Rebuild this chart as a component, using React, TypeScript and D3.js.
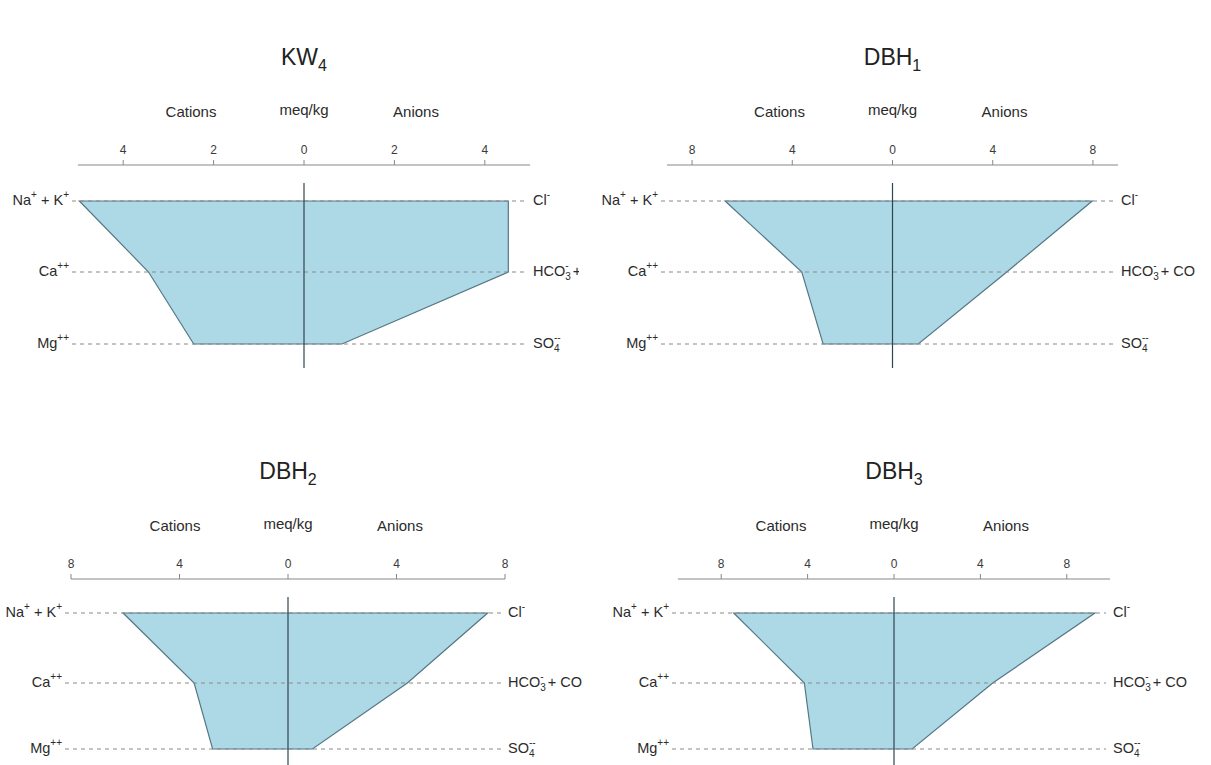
import React from "react";
import * as d3 from "d3";

// Ion balance (meq/kg) for four samples: cations plotted left, anions right.
const sampleNames = ["KW", "DBH", "DBH", "DBH"];
const sampleSubs = ["4", "1", "2", "3"];

const naK = [4.97, 6.68, 6.08, 7.42];
const ca = [3.44, 3.62, 3.46, 4.15];
const mg = [2.44, 2.77, 2.78, 3.75];
const cl = [4.52, 7.97, 7.36, 9.3];
const hco3 = [4.52, 4.56, 4.4, 4.57];
const so4 = [0.84, 1.03, 0.9, 0.84];

const axisMax = [5, 9, 8, 10];
const tickValues = [
  [-4, -2, 0, 2, 4],
  [-8, -4, 0, 4, 8],
  [-8, -4, 0, 4, 8],
  [-8, -4, 0, 4, 8],
];

// Panel frames on the page
const frames = [
  { x0: 78, x1: 530, top: 0, clipL: 0, clipR: 579, bottom: 368, rows: [201, 272, 344] },
  { x0: 667, x1: 1118, top: 0, clipL: 596, clipR: 1195, bottom: 368, rows: [201, 272, 344] },
  { x0: 71, x1: 505, top: 414, clipL: 0, clipR: 582, bottom: 765, rows: [199, 269, 335] },
  { x0: 678, x1: 1110, top: 414, clipL: 596, clipR: 1187, bottom: 765, rows: [199, 269, 335] },
];

const FONT = "'Liberation Sans', Arial, Helvetica, sans-serif";
const TXT = "#2b2b2b";
const LFS = 14.5;
const SFS = 10;

function LeftLabel({ kind, x, y }: { kind: number; x: number; y: number }) {
  const common = { x, y, textAnchor: "end" as const, fontSize: LFS, fill: TXT, fontFamily: FONT, dominantBaseline: "middle" as const };
  if (kind === 0)
    return (
      <text {...common}>
        Na<tspan fontSize={SFS} dy={-6}>+</tspan>
        <tspan dy={6}> + K</tspan>
        <tspan fontSize={SFS} dy={-6}>+</tspan>
      </text>
    );
  if (kind === 1)
    return (
      <text {...common}>
        Ca<tspan fontSize={SFS} dy={-6}>++</tspan>
      </text>
    );
  return (
    <text {...common}>
      Mg<tspan fontSize={SFS} dy={-6}>++</tspan>
    </text>
  );
}

function RightLabel({ kind, x, y }: { kind: number; x: number; y: number }) {
  const common = { x, y, textAnchor: "start" as const, fontSize: LFS, fill: TXT, fontFamily: FONT, dominantBaseline: "middle" as const };
  if (kind === 0)
    return (
      <text {...common}>
        Cl<tspan fontSize={SFS} dy={-6}>-</tspan>
      </text>
    );
  if (kind === 1)
    return (
      <text {...common}>
        HCO<tspan fontSize={SFS} dy={5}>3</tspan>
        <tspan fontSize={SFS} dx={-5.5} dy={-11}>-</tspan>
        <tspan dy={6}> + CO</tspan>
        <tspan fontSize={SFS} dy={5}>3</tspan>
        <tspan fontSize={SFS} dx={-5.5} dy={-11}>--</tspan>
      </text>
    );
  return (
    <text {...common}>
      SO<tspan fontSize={SFS} dy={5}>4</tspan>
      <tspan fontSize={SFS} dx={-5.5} dy={-11}>--</tspan>
    </text>
  );
}

function Panel({ i }: { i: number }) {
  const f = frames[i];
  const x = d3.scaleLinear().domain([-axisMax[i], axisMax[i]]).range([f.x0, f.x1]);
  const rowY = f.rows.map((r) => f.top + r);
  const axisY = f.top + 165;
  const cx = x(0);

  const pts: [number, number][] = [
    [-naK[i], rowY[0]],
    [cl[i], rowY[0]],
    [hco3[i], rowY[1]],
    [so4[i], rowY[2]],
    [-mg[i], rowY[2]],
    [-ca[i], rowY[1]],
  ];
  const line = d3
    .line<[number, number]>()
    .x((d) => x(d[0]))
    .y((d) => d[1]);
  const poly = line(pts) + "Z";

  const clipId = `clip-${i}`;
  return (
    <g>
      <defs>
        <clipPath id={clipId}>
          <rect x={f.clipL} y={f.top} width={f.clipR - f.clipL} height={f.bottom - f.top} />
        </clipPath>
      </defs>
      <g clipPath={`url(#${clipId})`}>
        <text x={cx} y={f.top + 65} textAnchor="middle" fontSize={23} fill="#222" fontFamily={FONT}>
          {sampleNames[i]}
          <tspan fontSize={16} dy={6}>{sampleSubs[i]}</tspan>
        </text>

        <text x={cx - 113} y={f.top + 113} textAnchor="middle" dominantBaseline="middle" fontSize={15} fill={TXT} fontFamily={FONT}>Cations</text>
        <text x={cx} y={f.top + 111} textAnchor="middle" dominantBaseline="middle" fontSize={15} fill={TXT} fontFamily={FONT}>meq/kg</text>
        <text x={cx + 112} y={f.top + 113} textAnchor="middle" dominantBaseline="middle" fontSize={15} fill={TXT} fontFamily={FONT}>Anions</text>

        <line x1={x.range()[0]} x2={x.range()[1]} y1={axisY} y2={axisY} stroke="#888" strokeWidth={1.2} />
        {tickValues[i].map((t) => (
          <g key={t}>
            <line x1={x(t)} x2={x(t)} y1={axisY} y2={axisY - 5} stroke="#888" strokeWidth={1} />
            <text x={x(t)} y={axisY - 14} textAnchor="middle" dominantBaseline="middle" fontSize={12} fill="#3a3a3a" fontFamily={FONT}>
              {Math.abs(t)}
            </text>
          </g>
        ))}

        <path d={poly} fill="#ADD8E6" stroke="#557785" strokeWidth={1.2} strokeLinejoin="miter" />

        {rowY.map((y, k) => (
          <line key={k} x1={x.range()[0] - 6} x2={x.range()[1] - 4} y1={y} y2={y} stroke="#8a8a8a" strokeWidth={1} strokeDasharray="4 4" />
        ))}

        <line x1={cx} x2={cx} y1={f.top + 183} y2={f.bottom} stroke="#2f4550" strokeWidth={1.2} />

        {rowY.map((y, k) => (
          <LeftLabel key={"l" + k} kind={k} x={x.range()[0] - 9} y={y} />
        ))}
        {rowY.map((y, k) => (
          <RightLabel key={"r" + k} kind={k} x={x.range()[1] + 3} y={y} />
        ))}
      </g>
    </g>
  );
}

export default function App() {
  return (
    <svg
      width={1211}
      height={765}
      viewBox="0 0 1211 765"
      style={{ position: "absolute", left: 0, top: 0, background: "#fff" }}
    >
      <rect width={1211} height={765} fill="#fff" />
      {[0, 1, 2, 3].map((i) => (
        <Panel key={i} i={i} />
      ))}
    </svg>
  );
}
